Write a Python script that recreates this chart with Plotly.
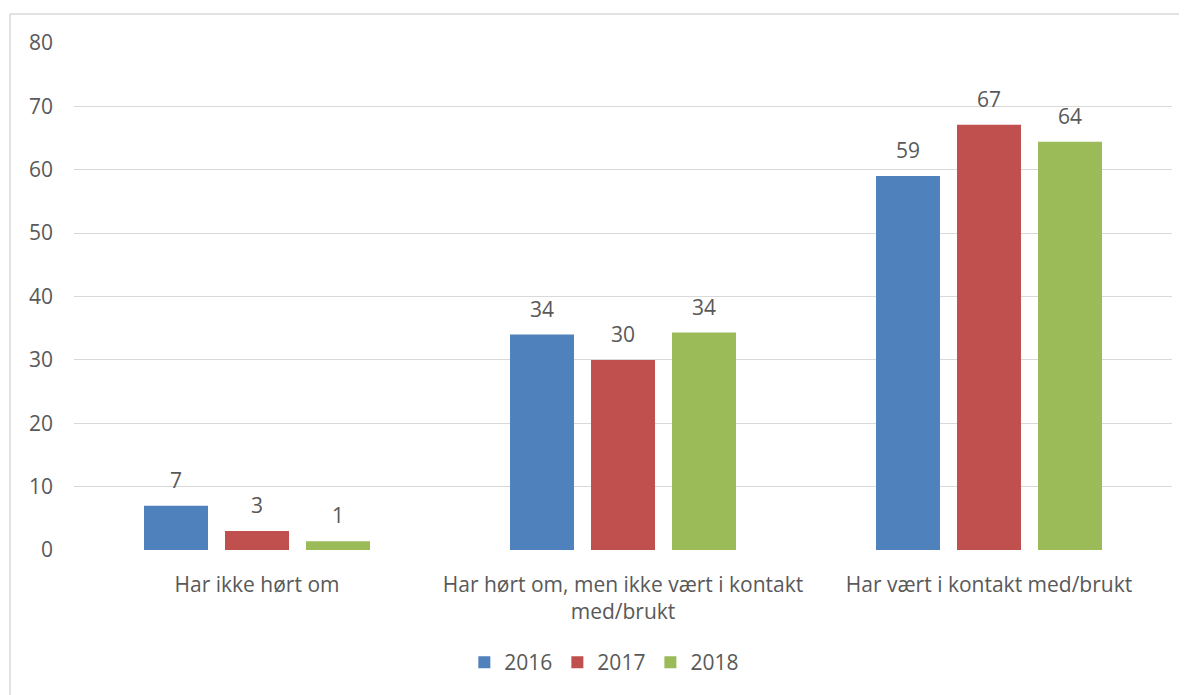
import plotly.graph_objects as go

categories = ["Har ikke hørt om",
              "Har hørt om, men ikke vært i kontakt<br>med/brukt",
              "Har vært i kontakt med/brukt"]
years = ["2016", "2017", "2018"]
v2016 = [7.0, 34.0, 59.0]
v2017 = [3.0, 30.0, 67.1]
v2018 = [1.4, 34.3, 64.4]
series = [v2016, v2017, v2018]
colors = ["#4F81BD", "#C0504D", "#9BBB59"]
text_color = "#595959"
FONT = "Open Sans"
FS = 21

# page has an 8px body margin: figure origin at (8, 8)
OFF = 8
W, H = 1187 - OFF, 695 - OFF
ml, mt = 74 - OFF, 43 - OFF
mr = W - (1172 - OFF)
mb = H - (552 - OFF)
pw, ph = W - ml - mr, H - mt - mb

fig = go.Figure()
for name, vals, col in zip(years, series, colors):
    fig.add_trace(go.Bar(x=categories, y=vals, name=name, marker_color=col,
                         marker_line_width=0))

bargap = 0.336
bargroupgap = 0.21
cat_w = pw / len(categories)
slot = cat_w * (1 - bargap) / len(years)
annotations = []
for i, vals in enumerate(series):
    for c, v in zip(categories, vals):
        annotations.append(dict(x=c, y=v, xref="x", yref="y", text=f"{round(v)}",
                                showarrow=False, xshift=(i - 1) * slot, yshift=10,
                                yanchor="bottom",
                                font=dict(family=FONT, size=FS, color=text_color)))

fig.update_layout(
    width=W, height=H, autosize=False,
    margin=dict(l=ml, r=mr, t=mt, b=mb),
    paper_bgcolor="white", plot_bgcolor="white",
    barmode="group", bargap=bargap, bargroupgap=bargroupgap,
    font=dict(family=FONT, size=FS, color=text_color),
    showlegend=True,
    legend=dict(orientation="h", x=0.483, xanchor="center", y=-(665 - 552) / ph,
                yanchor="middle", font=dict(family=FONT, size=FS, color=text_color),
                itemwidth=30, traceorder="normal"),
    annotations=annotations,
    shapes=[dict(type="rect", xref="paper", yref="paper",
                 x0=(10 - 74) / pw, x1=(1200 - 74) / pw,
                 y0=-(710 - 552) / ph, y1=1 + (43 - 14) / ph,
                 line=dict(color="#D9D9D9", width=1.5), fillcolor="rgba(0,0,0,0)",
                 layer="below")],
)
fig.update_yaxes(range=[0, 80], dtick=10, showgrid=True, gridcolor="#D9D9D9",
                 gridwidth=1.3, zeroline=False, showline=False, ticks="",
                 ticklabelstandoff=20, tickfont=dict(family=FONT, size=FS, color=text_color))
fig.update_xaxes(showgrid=False, showline=False, ticks="", zeroline=False,
                 ticklabelstandoff=20,
                 tickfont=dict(family=FONT, size=FS, color=text_color))

fig.write_html("out.html")
